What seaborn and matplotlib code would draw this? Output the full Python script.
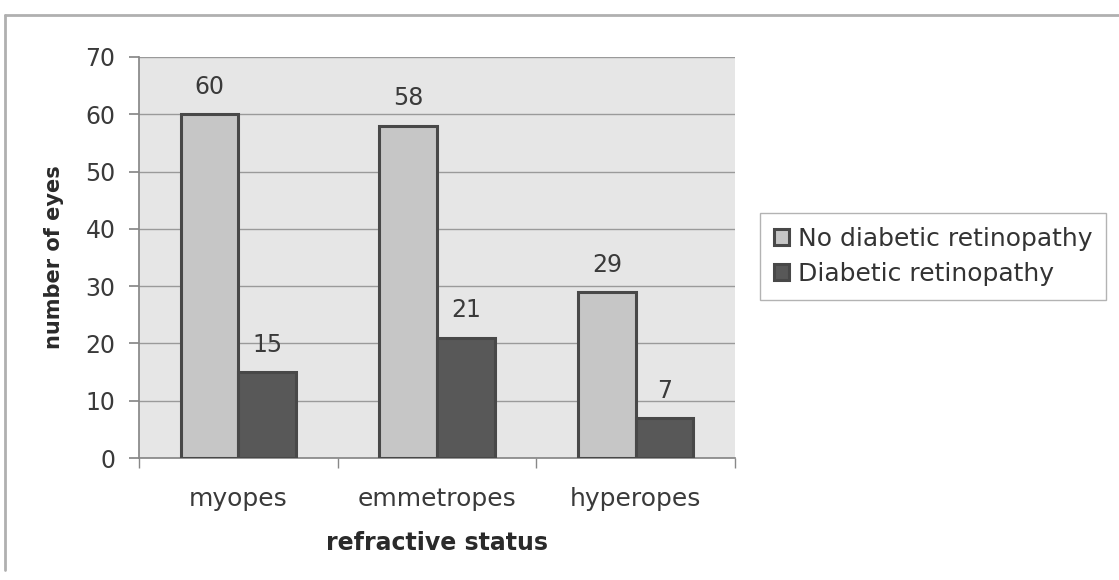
import matplotlib
matplotlib.use("Agg")
import matplotlib.pyplot as plt
import seaborn as sns
import pandas as pd
from matplotlib.lines import Line2D

categories = ["myopes", "emmetropes", "hyperopes"]
no_dr = [60, 58, 29]
dr = [15, 21, 7]
series_names = ["No diabetic retinopathy", "Diabetic retinopathy"]
y_ticks = [0, 10, 20, 30, 40, 50, 60, 70]

df = pd.DataFrame({
    "status": categories * 2,
    "eyes": no_dr + dr,
    "group": [series_names[0]] * 3 + [series_names[1]] * 3,
})

sns.set_theme(style="white")
plt.rcParams['font.family'] = ['DejaVu Sans']

fig = plt.figure(figsize=(11.19, 5.8), dpi=100)
fig.patch.set_facecolor("white")
ax = fig.add_axes([139/1119, 122/580, (735-139)/1119, (458-57)/580])
ax.set_facecolor("#e6e6e6")

sns.barplot(data=df, x="status", y="eyes", hue="group", hue_order=series_names,
            palette=["#c6c6c6", "#585858"], edgecolor="#484848", linewidth=2.2,
            width=0.58, gap=0, ax=ax, zorder=3)

ax.set_ylim(0, 70)
ax.set_yticks(y_ticks)
ax.set_xlim(-0.5, 2.5)
ax.yaxis.grid(True, color="#9a9a9a", linewidth=1, zorder=0)
ax.set_axisbelow(True)

for c in ax.containers:
    labels = [f"{int(v)}" for v in c.datavalues]
    ax.bar_label(c, labels=labels, padding=11, fontsize=17, color="#3a3a3a")

for s in ["top", "right"]:
    ax.spines[s].set_visible(False)
ax.spines["left"].set_color("#888888")
ax.spines["bottom"].set_color("#888888")

ax.tick_params(axis="y", labelsize=17, colors="#3a3a3a", length=7, direction="out",
               left=True, color="#888888", pad=10)
ax.tick_params(axis="x", labelsize=18, colors="#3a3a3a", length=0, pad=21)
ax.set_xticks([0, 1, 2])
ax.set_xticklabels(categories)
ax.set_xticks([-0.5, 0.5, 1.5, 2.5], minor=True)
ax.tick_params(axis="x", which="minor", length=7, color="#888888", bottom=True)

ax.set_ylabel("number of eyes", fontsize=15, fontweight="bold", color="#2a2a2a")
ax.yaxis.set_label_coords((54 - 139) / 596, 0.5)
ax.yaxis.label.set_va("center")
ax.set_xlabel("refractive status", fontsize=17, fontweight="bold", color="#2a2a2a")
ax.xaxis.set_label_coords(0.5, -(543 - 458) / 401)
ax.xaxis.label.set_va("center")

leg = ax.legend(loc="upper left", bbox_to_anchor=(760/1119, (580-213)/580),
                bbox_transform=fig.transFigure, fontsize=18, frameon=True,
                fancybox=False, edgecolor="#a0a0a0", handlelength=0.6,
                handleheight=0.6, handletextpad=0.35, borderpad=0.55,
                labelspacing=0.45, borderaxespad=0)
leg.get_frame().set_linewidth(1)
for t in leg.get_texts():
    t.set_color("#333333")

fig.add_artist(Line2D([5/1119, 1.0], [1 - 15/580, 1 - 15/580], transform=fig.transFigure,
                      color="#b0b0b0", linewidth=2))
fig.add_artist(Line2D([5/1119, 5/1119], [1 - 15/580, 1 - 570/580], transform=fig.transFigure,
                      color="#b0b0b0", linewidth=2))

fig.savefig("out.png", dpi=100, facecolor="white")
